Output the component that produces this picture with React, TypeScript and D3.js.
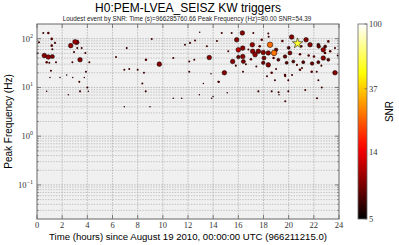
import * as d3 from "d3";

const WIDTH = 399;
const HEIGHT = 245;
const MARGIN = { top: 24, left: 37, right: 60, bottom: 26 };

// trigger time (hours), peak frequency (Hz), SNR
const HOURS = [
  0.5, 0.9, 0.16, 1.17, 1.17, 1.43, 1.22, 0.58, 0.9, 1.22, 0.77, 0.98, 1.51, 1.11, 1.03, 1.83, 0.77,
  2.68, 3.02, 3.16, 3.42, 2.94, 3.2, 3.55, 3.84, 2.81, 4.16, 2.36, 2.84, 3.76, 3.36, 3.89, 4.0, 4.08,
  3.42, 2.49, 6.28, 7.13, 6.94, 7.33, 8.0, 9.12, 8.66, 9.72, 8.5, 8.37, 8.64, 6.94, 8.98, 10.83, 11.5,
  10.83, 11.76, 12.16, 12.1, 12.5, 12.1, 12.56, 12.9, 13.88, 19.23, 19.73, 22.25, 14.68, 15.47, 16.32,
  15.87, 17.19, 18.38, 17.11, 18.52, 17.86, 20.24, 21.38, 21.7, 22.36, 23.15, 23.68, 22.75, 22.89,
  22.01, 21.59, 20.9, 13.69, 14.89, 15.55, 16.0, 16.35, 16.35, 16.4, 16.0, 17.14, 17.33, 17.59, 17.98,
  18.04, 17.98, 18.38, 18.84, 19.0, 18.38, 19.18, 19.71, 20.1, 19.84, 20.37, 21.16, 22.36, 22.75,
  23.15, 23.68, 18.65, 18.91, 19.71, 19.97, 20.9, 21.83, 22.36, 22.63, 13.22, 14.41, 18.65, 17.59,
  19.97, 22.23, 12.93, 13.83, 14.46, 17.43, 16.37, 15.12, 13.99, 18.41, 22.39, 22.9, 21.86, 21.06,
  20.27, 18.28, 19.73, 20.66, 19.2, 21.32, 16.8, 17.0, 16.6, 15.2, 15.8, 17.7, 19.5, 20.0, 21.0, 23.3,
  23.9, 22.6, 19.0, 14.3, 13.5, 18.8, 0.05,
];
const FREQS = [
  131, 131, 84, 99, 72, 82, 61, 45, 42, 43, 33, 32, 33, 22, 16, 16, 8.3,
  72, 86, 84, 37, 53, 64, 64, 51, 33, 33, 18, 16, 16, 13, 21, 10, 8.3,
  8.3, 7.1, 42, 64, 23, 24, 23, 99, 37, 30, 20, 12, 8.3, 4.0, 4.0, 6.0, 6.0,
  40, 75, 82, 34, 37, 21, 92, 7.1, 6.0, 7.1, 5.2, 6.0, 131, 131, 131,
  95, 131, 127, 75, 75, 95, 108, 95, 75, 75, 88, 64, 59, 51,
  43, 45, 48, 41, 20, 34, 59, 64, 43, 34, 42, 55, 47, 55, 52,
  40, 32, 51, 51, 59, 29, 37, 43, 51, 32, 34, 33, 33, 40,
  37, 20, 20, 14, 18, 14, 23, 21, 14, 10, 12, 13, 8.3, 8.3,
  8.3, 21, 135, 19, 13, 27, 21, 7.8, 6.5, 110, 69, 69, 31, 25,
  18, 17, 17, 29, 8, 8.9, 60, 38, 30, 55, 28, 70, 90, 65, 70, 55,
  45, 28, 24, 90, 70, 40, 50,
];
const SNRS = [
  6.5, 7, 6.5, 7, 7, 6.5, 6.5, 9, 9.5, 8.5, 7, 6.5, 6.5, 6.5, 6, 6, 6,
  9.5, 10, 9, 9, 6.5, 6.5, 6.5, 6.5, 6.5, 6.5, 6, 6, 6, 6.5, 6.5, 6.5, 6,
  6.5, 6, 6.5, 6.5, 6.5, 6.5, 6.5, 6.5, 7, 9, 6.5, 6.5, 6.5, 6, 6, 6, 6,
  6.5, 6.5, 6.5, 6.5, 6.5, 6.5, 6.5, 6, 6, 6, 6.5, 6.5, 6.5, 6.5, 9,
  9, 6.5, 6.5, 9.5, 24, 7, 9, 9, 9, 7.5, 7, 6.5, 9.5, 7,
  7, 7, 7, 9, 9, 9, 11, 9, 9, 8.5, 8, 9.5, 9.5, 9, 9,
  8.5, 8, 9, 25, 8, 9, 7.5, 8, 8.5, 7.5, 7.5, 7.5, 7.5, 9,
  7.5, 9, 7, 6.5, 7, 6.5, 7, 7, 6.5, 6.5, 6, 6.5, 6.5, 6.5,
  6.5, 6.5, 6, 6, 6.5, 6.5, 6.5, 6, 6, 6.5, 8, 7.5, 8, 6.5,
  6.5, 6.5, 6.5, 6.5, 6.5, 6.5, 6.5, 7, 6.5, 6.5, 6.5, 7, 7, 7.5, 7, 7,
  6.5, 6.5, 6.5, 6.5, 6.5, 7, 6.5,
];
const LOUDEST = { hour: 20.707, freq: 80, snr: 54.39 };

const X_TICKS = [0, 2, 4, 6, 8, 10, 12, 14, 16, 18, 20, 22, 24];
const Y_TICKS = [0.1, 1, 10, 100];
const Y_EXP = ["−1", "0", "1", "2"];
const CBAR_TICKS = [5, 14, 37, 100];

const TITLE = "H0:PEM-LVEA_SEISZ KW triggers";
const SUBTITLE =
  "Loudest event by SNR: Time (s)=966285760.66 Peak Frequency (Hz)=80.00 SNR=54.39";
const X_LABEL = "Time (hours) since August 19 2010, 00:00:00 UTC (966211215.0)";

// matplotlib "hot"
const hot = (t: number) => {
  const c = (v: number) => Math.max(0, Math.min(1, v));
  return d3.rgb(c(t / 0.365) * 255, c((t - 0.365) / 0.381) * 255, c((t - 0.746) / 0.254) * 255).toString();
};

const SERIF = "'Liberation Serif', 'DejaVu Serif', serif";
const SANS = "'Liberation Sans', Arial, sans-serif";

export default function App() {
  const boundsWidth = WIDTH - MARGIN.left - MARGIN.right;
  const boundsHeight = HEIGHT - MARGIN.top - MARGIN.bottom;

  const xScale = d3.scaleLinear().domain([0, 24]).range([0, boundsWidth]);
  const yScale = d3.scaleLog().domain([0.02, 200]).range([boundsHeight, 0]);
  const snrNorm = d3.scaleLog().domain([5, 100]).range([0, 1]).clamp(true);
  const rScale = d3.scaleLinear().domain([6, 9, 25]).range([0.75, 2.3, 2.8]).clamp(true);

  const minorY: number[] = [];
  for (let e = -2; e <= 2; e++) {
    for (let k = 2; k <= 9; k++) {
      const v = k * Math.pow(10, e);
      if (v > 0.02 && v < 200) minorY.push(v);
    }
  }

  const points = HOURS.map((h, i) => ({ h, f: FREQS[i], s: SNRS[i] })).sort((a, b) => a.s - b.s);

  const cbX = 358;
  const cbW = 9;
  const cbScale = d3.scaleLog().domain([5, 100]).range([MARGIN.top + boundsHeight, MARGIN.top]);
  const stops = d3.range(0, 1.0001, 0.05);

  const star = d3.symbol().type(d3.symbolStar).size(34)();

  return (
    <svg width={WIDTH} height={HEIGHT} style={{ position: "absolute", left: 0, top: 0, background: "#fff" }}>
      <defs>
        <linearGradient id="hotGrad" x1="0" y1="1" x2="0" y2="0">
          {stops.map((t, i) => (
            <stop key={i} offset={t} stopColor={hot(t)} />
          ))}
        </linearGradient>
      </defs>

      <text x={188} y={12} textAnchor="middle" fontFamily={SANS} fontSize={12}>
        {TITLE}
      </text>
      <text x={187} y={20.5} textAnchor="middle" fontFamily={SANS} fontSize={6.3} fill="#222">
        {SUBTITLE}
      </text>

      <g transform={`translate(${MARGIN.left},${MARGIN.top})`}>
        <rect width={boundsWidth} height={boundsHeight} fill="#f0f0f0" />
        {minorY.map((v, i) => (
          <line key={"m" + i} x1={0} x2={boundsWidth} y1={yScale(v)} y2={yScale(v)}
            stroke="#a8a8a8" strokeWidth={0.6} strokeDasharray="1.5,1.2" />
        ))}
        {Y_TICKS.map((v, i) => (
          <line key={"y" + i} x1={0} x2={boundsWidth} y1={yScale(v)} y2={yScale(v)}
            stroke="#a0a0a0" strokeWidth={0.7} strokeDasharray="1.5,1.2" />
        ))}
        {X_TICKS.slice(1, -1).map((v, i) => (
          <line key={"x" + i} x1={xScale(v)} x2={xScale(v)} y1={0} y2={boundsHeight}
            stroke="#a8a8a8" strokeWidth={0.7} strokeDasharray="1.5,1.2" />
        ))}

        {points.map((d, i) => (
          <circle key={i} cx={xScale(d.h)} cy={yScale(d.f)} r={rScale(d.s)}
            fill={hot(snrNorm(d.s))} stroke={d.s >= 7.5 ? "#000" : "none"} strokeWidth={0.5} />
        ))}
        <path d={star!} transform={`translate(${xScale(LOUDEST.hour)},${yScale(LOUDEST.freq)})`}
          fill={hot(snrNorm(LOUDEST.snr))} stroke="#000" strokeWidth={0.5} />

        {/* ticks */}
        {X_TICKS.map((v, i) => (
          <g key={"xt" + i}>
            <line x1={xScale(v)} x2={xScale(v)} y1={boundsHeight} y2={boundsHeight - 4} stroke="#555" strokeWidth={0.7} />
            <line x1={xScale(v)} x2={xScale(v)} y1={0} y2={4} stroke="#555" strokeWidth={0.7} />
            <text x={xScale(v)} y={boundsHeight + 9} textAnchor="middle" fontFamily={SERIF} fontSize={8.5} fill="#333">
              {v}
            </text>
          </g>
        ))}
        {minorY.map((v, i) => (
          <g key={"ymt" + i}>
            <line x1={0} x2={2} y1={yScale(v)} y2={yScale(v)} stroke="#555" strokeWidth={0.5} />
            <line x1={boundsWidth} x2={boundsWidth - 2} y1={yScale(v)} y2={yScale(v)} stroke="#555" strokeWidth={0.5} />
          </g>
        ))}
        {Y_TICKS.map((v, i) => (
          <g key={"yt" + i}>
            <line x1={0} x2={4} y1={yScale(v)} y2={yScale(v)} stroke="#555" strokeWidth={0.7} />
            <line x1={boundsWidth} x2={boundsWidth - 4} y1={yScale(v)} y2={yScale(v)} stroke="#555" strokeWidth={0.7} />
            <text x={-4} y={yScale(v) + 3} textAnchor="end" fontFamily={SERIF} fontSize={8.5} fill="#333">
              <tspan>10</tspan>
              <tspan dy={-4} fontSize={6}>{Y_EXP[i]}</tspan>
            </text>
          </g>
        ))}
        <rect width={boundsWidth} height={boundsHeight} fill="none" stroke="#666" strokeWidth={1} />
      </g>

      <text transform={`translate(12,${MARGIN.top + boundsHeight / 2}) rotate(-90)`} textAnchor="middle"
        fontFamily={SANS} fontSize={10}>
        Peak Frequency (Hz)
      </text>
      <text x={188} y={240} textAnchor="middle" fontFamily={SANS} fontSize={9.6}>
        {X_LABEL}
      </text>

      {/* colorbar */}
      <rect x={cbX} y={MARGIN.top} width={cbW} height={boundsHeight} fill="url(#hotGrad)" stroke="#666" strokeWidth={0.8} />
      {CBAR_TICKS.map((v, i) => (
        <g key={"cb" + i}>
          <line x1={cbX + cbW} x2={cbX + cbW - 2.5} y1={cbScale(v)} y2={cbScale(v)} stroke="#555" strokeWidth={0.6} />
          <text x={cbX + cbW + 2} y={cbScale(v) + 3} fontFamily={SERIF} fontSize={8.5} fill="#333">
            {v}
          </text>
        </g>
      ))}
      <text transform={`translate(393,${MARGIN.top + boundsHeight / 2 - 10}) rotate(-90)`} textAnchor="middle"
        fontFamily={SANS} fontSize={10}>
        SNR
      </text>
    </svg>
  );
}
